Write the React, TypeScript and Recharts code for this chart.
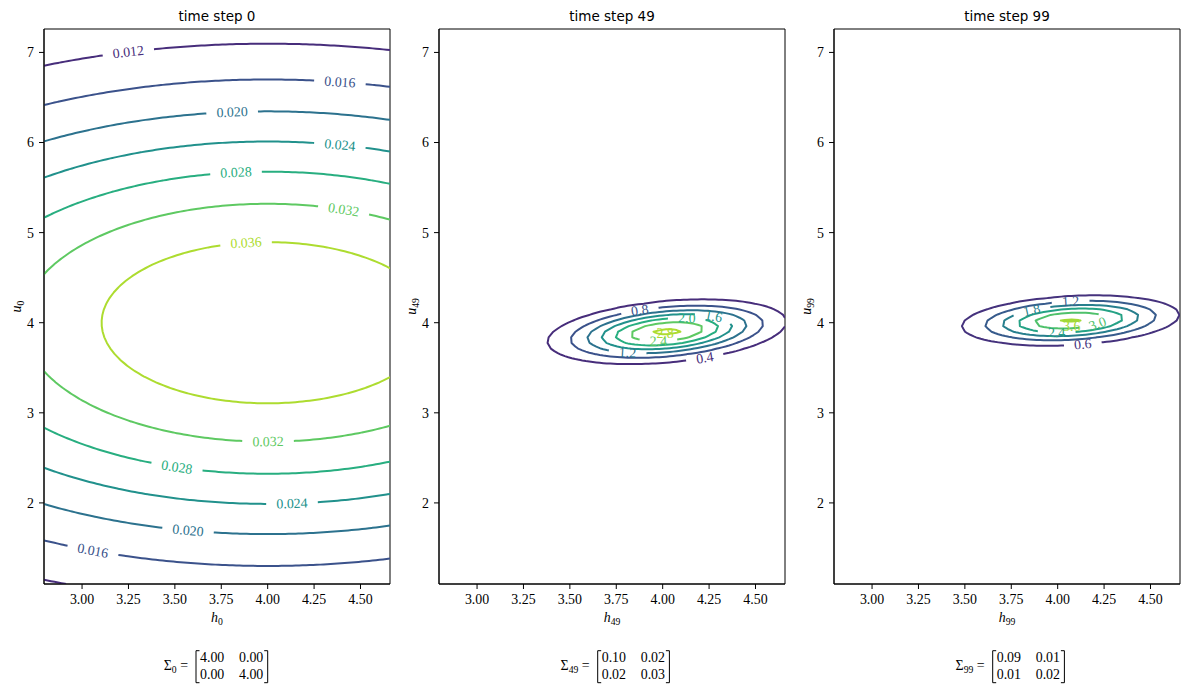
import React from "react";
import { ComposedChart, Line, Scatter, XAxis, YAxis, ReferenceArea } from "recharts";

// ---------- values ----------
const timeSteps = [0, 49, 99];
const meanH = [4.0, 4.023, 4.07];
const meanU = [4.0, 3.9, 4.024];
const covariances = [
  [[4.0, 0.0], [0.0, 4.0]],
  [[0.1049, 0.018], [0.018, 0.0322]],
  [[0.0949, 0.01], [0.01, 0.021]],
];
const contourLevels = [
  [0.012, 0.016, 0.02, 0.024, 0.028, 0.032, 0.036],
  [0.4, 0.8, 1.2, 1.6, 2.0, 2.4, 2.8],
  [0.6, 1.2, 1.8, 2.4, 3.0, 3.6],
];
const levelDecimals = [3, 1, 1];
// inline label spots: [level, h, u]
const labelAnchors = [
  [
    [0.012, 3.248, 7.027], [0.016, 4.39, 6.694], [0.02, 3.808, 6.361],
    [0.024, 4.39, 5.995], [0.028, 3.829, 5.684], [0.032, 4.411, 5.273],
    [0.036, 3.883, 4.896], [0.032, 4.002, 2.687], [0.028, 3.512, 2.41],
    [0.024, 4.131, 1.999], [0.02, 3.571, 1.699], [0.016, 3.059, 1.477],
  ],
  [
    [0.8, 3.878, 4.122], [2.0, 4.13, 4.049], [1.6, 4.273, 4.056],
    [2.8, 4.013, 3.883], [2.4, 3.977, 3.789], [1.2, 3.81, 3.642],
    [0.4, 4.228, 3.597],
  ],
  [
    [1.8, 3.86, 4.141], [1.2, 4.07, 4.227], [3.6, 4.076, 3.956],
    [2.4, 3.995, 3.938], [3.0, 4.22, 3.96], [0.6, 4.135, 3.772],
  ],
];
const hTicks = [3.0, 3.25, 3.5, 3.75, 4.0, 4.25, 4.5];
const uTicks = [2, 3, 4, 5, 6, 7];
const H_RANGE: [number, number] = [2.795, 4.659];
const U_RANGE: [number, number] = [1.1, 7.26];
const GRID_N = 100;

// ---------- layout ----------
const PANEL_W = 395;
const CHART_H = 692;
const MARGIN = { top: 29, right: 5, bottom: 68, left: 0 };
const Y_AXIS_W = 44;
const X_AXIS_H = 40;
const PLOT_W = PANEL_W - MARGIN.left - MARGIN.right - Y_AXIS_W;
const PLOT_H = CHART_H - MARGIN.top - MARGIN.bottom - X_AXIS_H;
const KX = PLOT_W / (H_RANGE[1] - H_RANGE[0]);
const KY = PLOT_H / (U_RANGE[1] - U_RANGE[0]);

const SERIF = "'Liberation Serif', 'DejaVu Serif', serif";
const SANS = "'DejaVu Sans', sans-serif";
const FONT = 13.9;
const SUB = 9.7;
const GAP_PAD = 10;

const VIRIDIS = ["#440154", "#472d7b", "#3b528b", "#2c728e", "#21918c", "#28ae80", "#5ec962", "#addc30", "#fde725"];
const hex = (h: string) => [1, 3, 5].map((i) => parseInt(h.slice(i, i + 2), 16));
function viridis(t: number): string {
  const s = Math.min(Math.max(t, 0), 1) * (VIRIDIS.length - 1);
  const i = Math.min(Math.floor(s), VIRIDIS.length - 2);
  const f = s - i;
  const a = hex(VIRIDIS[i]);
  const b = hex(VIRIDIS[i + 1]);
  const c = a.map((v, k) => Math.round(v + (b[k] - v) * f));
  return `rgb(${c[0]},${c[1]},${c[2]})`;
}

type Pt = { x: number; y: number };

const linspace = ([a, b]: [number, number], n: number) =>
  Array.from({ length: n }, (_, i) => a + ((b - a) * i) / (n - 1));

// marching squares, segments chained into polylines
function traceContour(f: (x: number, y: number) => number, level: number, xs: number[], ys: number[]): Pt[][] {
  const v = ys.map((y) => xs.map((x) => f(x, y)));
  const pos = new Map<string, Pt>();
  const nbr = new Map<string, string[]>();
  const hKey = (i: number, j: number) => {
    const k = `h${i}_${j}`;
    if (!pos.has(k)) {
      const a = v[j][i], b = v[j][i + 1];
      const t = (level - a) / (b - a);
      pos.set(k, { x: xs[i] + t * (xs[i + 1] - xs[i]), y: ys[j] });
    }
    return k;
  };
  const vKey = (i: number, j: number) => {
    const k = `v${i}_${j}`;
    if (!pos.has(k)) {
      const a = v[j][i], b = v[j + 1][i];
      const t = (level - a) / (b - a);
      pos.set(k, { x: xs[i], y: ys[j] + t * (ys[j + 1] - ys[j]) });
    }
    return k;
  };
  const join = (a: string, b: string) => {
    if (!nbr.has(a)) nbr.set(a, []);
    if (!nbr.has(b)) nbr.set(b, []);
    nbr.get(a)!.push(b);
    nbr.get(b)!.push(a);
  };
  for (let j = 0; j < ys.length - 1; j++) {
    for (let i = 0; i < xs.length - 1; i++) {
      const c = [v[j][i] >= level, v[j][i + 1] >= level, v[j + 1][i + 1] >= level, v[j + 1][i] >= level];
      const e: string[] = [];
      if (c[0] !== c[1]) e.push(hKey(i, j));
      if (c[1] !== c[2]) e.push(vKey(i + 1, j));
      if (c[2] !== c[3]) e.push(hKey(i, j + 1));
      if (c[3] !== c[0]) e.push(vKey(i, j));
      if (e.length === 2) join(e[0], e[1]);
      else if (e.length === 4) {
        join(e[0], e[1]);
        join(e[2], e[3]);
      }
    }
  }
  const seen = new Set<string>();
  const lines: Pt[][] = [];
  const walk = (start: string) => {
    const path = [start];
    seen.add(start);
    let cur = start;
    for (;;) {
      const next = (nbr.get(cur) || []).find((k) => !seen.has(k));
      if (!next) break;
      seen.add(next);
      path.push(next);
      cur = next;
    }
    if (path.length > 2 && (nbr.get(cur) || []).includes(start)) path.push(start);
    lines.push(path.map((k) => pos.get(k)!));
  };
  for (const [k, n] of nbr) if (n.length === 1 && !seen.has(k)) walk(k);
  for (const k of nbr.keys()) if (!seen.has(k)) walk(k);
  return lines;
}

function arcLengths(line: Pt[]): number[] {
  const s = [0];
  for (let i = 1; i < line.length; i++) {
    s.push(s[i - 1] + Math.hypot((line[i].x - line[i - 1].x) * KX, (line[i].y - line[i - 1].y) * KY));
  }
  return s;
}

const isClosed = (line: Pt[]) =>
  line.length > 2 && line[0].x === line[line.length - 1].x && line[0].y === line[line.length - 1].y;

function pointAt(line: Pt[], s: number[], t: number): Pt {
  const T = s[s.length - 1];
  if (isClosed(line)) t = ((t % T) + T) % T;
  else t = Math.min(Math.max(t, 0), T);
  let i = 0;
  while (i < s.length - 2 && s[i + 1] < t) i++;
  const f = (t - s[i]) / (s[i + 1] - s[i] || 1);
  return { x: line[i].x + f * (line[i + 1].x - line[i].x), y: line[i].y + f * (line[i + 1].y - line[i].y) };
}

function nearestOnLines(lines: Pt[][], p: Pt) {
  let best: { line: number; s: number } | null = null;
  let bestD = Infinity;
  lines.forEach((line, li) => {
    const s = arcLengths(line);
    for (let i = 0; i < line.length - 1; i++) {
      const ax = line[i].x * KX, ay = line[i].y * KY;
      const bx = line[i + 1].x * KX, by = line[i + 1].y * KY;
      const px = p.x * KX, py = p.y * KY;
      const l2 = (bx - ax) ** 2 + (by - ay) ** 2 || 1;
      const t = Math.min(Math.max(((px - ax) * (bx - ax) + (py - ay) * (by - ay)) / l2, 0), 1);
      const d = Math.hypot(ax + t * (bx - ax) - px, ay + t * (by - ay) - py);
      if (d < bestD) {
        bestD = d;
        best = { line: li, s: s[i] + t * (s[i + 1] - s[i]) };
      }
    }
  });
  if (!best) return null;
  const { line: li, s: s0 } = best as { line: number; s: number };
  const line = lines[li];
  const s = arcLengths(line);
  const pt = pointAt(line, s, s0);
  const a = pointAt(line, s, s0 - 7);
  const b = pointAt(line, s, s0 + 7);
  let angle = (Math.atan2(-(b.y - a.y) * KY, (b.x - a.x) * KX) * 180) / Math.PI;
  if (angle > 90) angle -= 180;
  if (angle < -90) angle += 180;
  return { line: li, s: s0, pt, angle, total: s[s.length - 1] };
}

// cut the stretches of a contour that sit under its labels
function keepOutside(line: Pt[], cuts: [number, number][]): Pt[][] {
  if (!cuts.length) return [line];
  const s = arcLengths(line);
  const T = s[s.length - 1];
  const closed = isClosed(line);
  const iv: [number, number][] = [];
  cuts.forEach(([a, b]) => {
    if (closed && a < 0) iv.push([a + T, T], [0, b]);
    else if (closed && b > T) iv.push([a, T], [0, b - T]);
    else iv.push([Math.max(a, 0), Math.min(b, T)]);
  });
  iv.sort((p, q) => p[0] - q[0]);
  const keep: [number, number][] = [];
  let cur = 0;
  iv.forEach(([a, b]) => {
    if (a > cur) keep.push([cur, a]);
    cur = Math.max(cur, b);
  });
  if (cur < T) keep.push([cur, T]);
  const pieces = keep.map(([a, b]) => {
    const pts = [pointAt(line, s, a)];
    for (let i = 0; i < line.length; i++) if (s[i] > a && s[i] < b) pts.push(line[i]);
    pts.push(pointAt(line, s, b === T ? T - 1e-9 : b));
    return pts;
  });
  if (closed && pieces.length > 1 && keep[0][0] === 0 && keep[keep.length - 1][1] === T) {
    const first = pieces.shift()!;
    pieces[pieces.length - 1] = pieces[pieces.length - 1].concat(first.slice(1));
  }
  return pieces;
}

const textWidth = (t: string) => [...t].reduce((w, ch) => w + (ch === "." ? 0.278 : 0.5), 0) * FONT;

type Label = { x: number; y: number; text: string; color: string; angle: number };
type Series = { level: number; color: string; data: { x: number; y: number | null }[] };

function buildPanel(k: number) {
  const [[sxx, sxy], [, syy]] = covariances[k];
  const det = sxx * syy - sxy * sxy;
  const peak = 1 / (2 * Math.PI * Math.sqrt(det));
  const lxx = syy / det, lyy = sxx / det, lxy = -sxy / det;
  const density = (h: number, u: number) => {
    const a = h - meanH[k], b = u - meanU[k];
    return peak * Math.exp(-0.5 * (lxx * a * a + 2 * lxy * a * b + lyy * b * b));
  };
  const hs = linspace(H_RANGE, GRID_N);
  const us = linspace(U_RANGE, GRID_N);
  const levels = contourLevels[k];
  const step = levels[1] - levels[0];
  const lo = levels[0] - step;
  const hi = levels[levels.length - 1] + step;
  const series: Series[] = [];
  const labels: Label[] = [];
  levels.forEach((level) => {
    const color = viridis((level - lo) / (hi - lo));
    const text = level.toFixed(levelDecimals[k]);
    const lines = traceContour(density, level, hs, us);
    const cuts: [number, number][][] = lines.map(() => []);
    labelAnchors[k]
      .filter((a) => Math.abs(a[0] - level) < 1e-9)
      .forEach(([, h, u]) => {
        const hit = nearestOnLines(lines, { x: h, y: u });
        if (!hit) return;
        const half = textWidth(text) / 2 + GAP_PAD;
        if (hit.total < 5 * half) {
          // loop too small to break: the label just sits over it
          labels.push({ x: h, y: u, text, color, angle: 0 });
          return;
        }
        cuts[hit.line].push([hit.s - half, hit.s + half]);
        labels.push({ x: hit.pt.x, y: hit.pt.y, text, color, angle: hit.angle });
      });
    const data: { x: number; y: number | null }[] = [];
    lines.forEach((line, i) =>
      keepOutside(line, cuts[i]).forEach((piece) => {
        if (data.length) data.push({ x: piece[0].x, y: null });
        data.push(...piece);
      })
    );
    series.push({ level, color, data });
  });
  return { series, labels };
}

const panels = timeSteps.map((_, k) => buildPanel(k));

const renderLabel = (props: any) => {
  const { cx, cy, payload } = props;
  return (
    <text
      x={cx}
      y={cy}
      transform={`rotate(${payload.angle} ${cx} ${cy})`}
      textAnchor="middle"
      dominantBaseline="central"
      fill={payload.color}
      fontSize={FONT}
      fontFamily={SERIF}
    >
      {payload.text}
    </text>
  );
};

const tickStyle = { fill: "#000", fontSize: FONT, fontFamily: SERIF };

function Panel({ k }: { k: number }) {
  const { series, labels } = panels[k];
  return (
    <ComposedChart width={PANEL_W} height={CHART_H} margin={MARGIN}>
      <XAxis
        dataKey="x"
        type="number"
        domain={H_RANGE}
        ticks={hTicks}
        interval={0}
        allowDataOverflow
        height={X_AXIS_H}
        tickSize={5}
        tickMargin={5}
        tickFormatter={(v: number) => v.toFixed(2)}
        tick={tickStyle}
        tickLine={{ stroke: "#000" }}
        axisLine={{ stroke: "#000" }}
      />
      <YAxis
        dataKey="y"
        type="number"
        domain={U_RANGE}
        ticks={uTicks}
        interval={0}
        allowDataOverflow
        width={Y_AXIS_W}
        tickSize={5}
        tickMargin={5}
        tick={tickStyle}
        tickLine={{ stroke: "#000" }}
        axisLine={{ stroke: "#000" }}
      />
      {series.map((s) => (
        <Line
          key={s.level}
          data={s.data}
          dataKey="y"
          stroke={s.color}
          strokeWidth={2}
          strokeLinejoin="round"
          dot={false}
          activeDot={false}
          connectNulls={false}
          isAnimationActive={false}
        />
      ))}
      <Scatter data={labels} dataKey="y" shape={renderLabel} isAnimationActive={false} />
      <ReferenceArea
        x1={H_RANGE[0]}
        x2={H_RANGE[1]}
        y1={U_RANGE[0]}
        y2={U_RANGE[1]}
        fill="none"
        fillOpacity={0}
        stroke="#000"
        strokeWidth={1}
        ifOverflow="visible"
      />
    </ComposedChart>
  );
}

function Annotations() {
  return (
    <svg width={1189} height={692} style={{ position: "absolute", left: 0, top: 0, pointerEvents: "none" }}>
      {timeSteps.map((t, k) => {
        const x0 = k * PANEL_W;
        const c = x0 + MARGIN.left + Y_AXIS_W + PLOT_W / 2;
        const bL = c + (String(t).length > 1 ? -14.3 : -21);
        const bR = bL + 71.7;
        const cells = covariances[k].map((row) => row.map((v) => v.toFixed(2)));
        return (
          <g key={t} fill="#000">
            <text x={c} y={20.5} textAnchor="middle" fontFamily={SANS} fontSize={13.5}>
              {`time step ${t}`}
            </text>
            <text x={c} y={622} textAnchor="middle" fontFamily={SERIF} fontSize={FONT}>
              <tspan fontStyle="italic">h</tspan>
              <tspan fontSize={SUB} dy={3}>{t}</tspan>
            </text>
            <text
              transform={`translate(${x0 + 20.5} 306.5) rotate(-90)`}
              textAnchor="middle"
              fontFamily={SERIF}
              fontSize={FONT}
            >
              <tspan fontStyle="italic">u</tspan>
              <tspan fontSize={SUB} dy={3}>{t}</tspan>
            </text>
            <text x={bL - 8} y={670} textAnchor="end" fontFamily={SERIF} fontSize={FONT}>
              Σ<tspan fontSize={SUB} dy={3}>{t}</tspan>
              <tspan dy={-3}>{" ="}</tspan>
            </text>
            <path d={`M${bL + 3.5} 650.7H${bL}V682.7H${bL + 3.5}`} stroke="#000" fill="none" />
            <path d={`M${bR - 3.5} 650.7H${bR}V682.7H${bR - 3.5}`} stroke="#000" fill="none" />
            {cells.map((row, i) =>
              row.map((v, j) => (
                <text
                  key={`${i}${j}`}
                  x={bL + (j ? 43 : 4)}
                  y={i ? 679 : 661.5}
                  fontFamily={SERIF}
                  fontSize={FONT}
                >
                  {v}
                </text>
              ))
            )}
          </g>
        );
      })}
    </svg>
  );
}

export default function App() {
  return (
    <div style={{ position: "absolute", left: 0, top: 0, width: 1189, height: 692, background: "#fff" }}>
      {timeSteps.map((t, k) => (
        <div key={t} style={{ position: "absolute", left: k * PANEL_W, top: 0 }}>
          <Panel k={k} />
        </div>
      ))}
      <Annotations />
    </div>
  );
}
